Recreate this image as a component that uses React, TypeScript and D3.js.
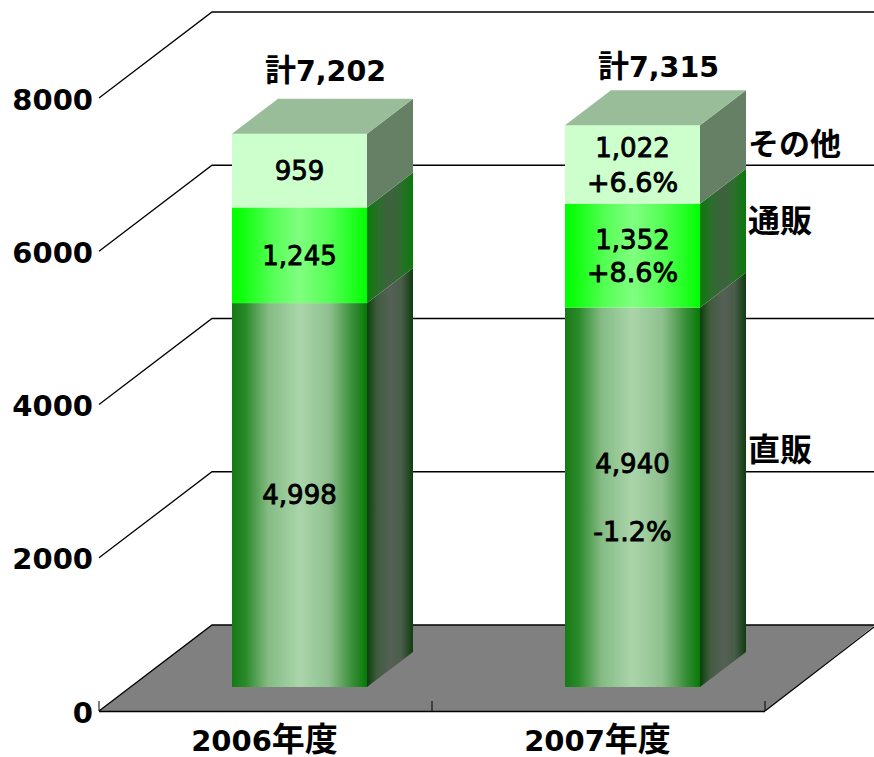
import React from "react";
import * as d3 from "d3";

const categories = ["2006", "2007"];
const categorySuffix = "年度";
const chokuhan = [4998, 4940];
const tsuhan = [1245, 1352];
const sonota = [959, 1022];
const totals = ["7,202", "7,315"];
const totalPrefix = "計";
const yTicks = [0, 2000, 4000, 6000, 8000];
const labelLines = [
  [["4,998"], ["1,245"], ["959"]],
  [["4,940", "-1.2%"], ["1,352", "+8.6%"], ["1,022", "+6.6%"]],
];
const seriesNames = ["直販", "通販", "その他"];

const W = 874, H = 757;
const DX = 112, DY = 86; // floor depth
const BDX = 46, BDY = 35; // bar depth
const x = d3.scaleBand<string>().domain(categories).range([99, 765]);
const y = d3.scaleLinear().domain([0, 8000]).range([711, 98]);
const yBar = d3.scaleLinear().domain([0, 8000]).range([687, 72.5]);
const BW = 135;
const barLeft = (c: string) => x(c)! + x.bandwidth() / 2 - BW / 2 + 34;
const font = "'DejaVu Sans','Noto Sans CJK JP',sans-serif";
const cjk = "'Noto Sans CJK JP',sans-serif";
const poly = (p: number[][]) => p.map((a) => a.join(",")).join(" ");

function Grad({ id, stops }: { id: string; stops: [number, string][] }) {
  return (
    <linearGradient id={id} x1="0" x2="1" y1="0" y2="0">
      {stops.map(([o, c]) => <stop key={o} offset={o} stopColor={c} />)}
    </linearGradient>
  );
}

const fills = [
  { front: "url(#gf0)", side: "url(#gs0)" },
  { front: "url(#gf1)", side: "url(#gs1)" },
  { front: "#ccffcc", side: "#668066" },
];

// vertical label centres relative to segment middle, one per line
const labelDy = [
  [[-1], [0], [0]],
  [[-34, 34], [-16, 17], [-17, 18]],
];

export default function App() {
  const stacks = categories.map((_, i) => {
    const vals = [chokuhan[i], tsuhan[i], sonota[i]];
    let acc = 0;
    return vals.map((v) => {
      const r = { a: acc, b: acc + v };
      acc += v;
      return r;
    });
  });
  return (
    <svg width={W} height={H} style={{ position: "absolute", left: 0, top: 0 }} fontFamily={font}>
      <defs>
        <Grad id="gf0" stops={[[0, "#157a15"], [0.1, "#2a8a2a"], [0.27, "#85bb85"], [0.5, "#aad5aa"], [0.72, "#8fc08f"], [0.9, "#358c35"], [1, "#057a05"]]} />
        <Grad id="gs0" stops={[[0, "#0c3f0c"], [0.22, "#3f5c3f"], [0.5, "#556055"], [0.75, "#4a5c4a"], [1, "#0f3d0f"]]} />
        <Grad id="gf1" stops={[[0, "#00ff00"], [0.08, "#10ff10"], [0.3, "#55ff55"], [0.5, "#80ff80"], [0.72, "#55ff55"], [0.95, "#10ff10"], [1, "#00ff00"]]} />
        <Grad id="gs1" stops={[[0, "#0a7a0a"], [0.25, "#2c6e2c"], [0.5, "#406040"], [0.75, "#2c6e2c"], [1, "#0a7a0a"]]} />
      </defs>
      <rect width={W} height={H} fill="#fff" />
      <polygon points={poly([[x.range()[0], y(0)], [x.range()[0] + DX + 1, y(0) - DY], [W + 1, y(0) - DY], [x.range()[1], y(0)]])} fill="#808080" />
      {yTicks.map((t) => (
        <polyline key={t} fill="none" stroke="#000" strokeWidth={1.3}
          points={poly([[x.range()[0], y(t)], [x.range()[0] + DX + 1, y(t) - DY], [W, y(t) - DY]])} />
      ))}
      <line x1={765} y1={711} x2={874} y2={627} stroke="#000" strokeWidth={1.3} />
      <line x1={99} x2={765} y1={711.5} y2={711.5} stroke="#000" strokeWidth={1.6} />
      {[0, 1, 2].map((i) => (
        <line key={i} x1={99 + i * x.bandwidth()} x2={99 + i * x.bandwidth()} y1={701} y2={711} stroke="#000" strokeWidth={1} />
      ))}
      {categories.map((c, i) => {
        const l = barLeft(c);
        const r = l + BW;
        const top = yBar(stacks[i][2].b);
        return (
          <g key={c}>
            {stacks[i].map((s, k) => {
              const y0 = yBar(s.a), y1 = yBar(s.b);
              return (
                <g key={k}>
                  <polygon points={poly([[r, y0], [r + BDX, y0 - BDY], [r + BDX, y1 - BDY], [r, y1]])} fill={fills[k].side} />
                  <rect x={l} y={y1} width={BW} height={y0 - y1} fill={fills[k].front} />
                </g>
              );
            })}
            <polygon fill="#99bd99" points={poly([[l, top], [l + BDX, top - BDY], [r + BDX, top - BDY], [r, top]])} />
          </g>
        );
      })}
      {categories.map((c, i) => {
        const cx = barLeft(c) + BW / 2;
        return stacks[i].map((s, k) => {
          const mid = (yBar(s.a) + yBar(s.b)) / 2;
          return labelLines[i][k].map((t, j) => (
            <text key={t} x={cx} y={mid + labelDy[i][k][j] + 9.5}
              textAnchor="middle" fontSize={t.includes("%") ? 27 : 26} fill="#000" stroke="#000" strokeWidth={0.9}>
              {t}
            </text>
          ));
        });
      })}
      {categories.map((c, i) => (
        <text key={c} x={barLeft(c) + BW / 2 + 26} y={[81, 77][i]} textAnchor="middle" fontSize={28.5} fontWeight="bold">
          <tspan fontFamily={cjk} fontSize={31}>{totalPrefix}</tspan>{totals[i]}
        </text>
      ))}
      {yTicks.map((t) => (
        <text key={t} x={93} y={y(t) + 11.5} textAnchor="end" fontSize={29} fontWeight="bold">{t}</text>
      ))}
      {categories.map((c) => (
        <text key={c} x={x(c)! + x.bandwidth() / 2 - 1} y={751} textAnchor="middle" fontSize={29} fontWeight="bold">
          {c}<tspan fontFamily={cjk} fontSize={33}>{categorySuffix}</tspan>
        </text>
      ))}
      <text x={748} y={461} fontSize={32} fontFamily={cjk} fontWeight="bold">{seriesNames[0]}</text>
      <text x={748} y={232} fontSize={32} fontFamily={cjk} fontWeight="bold">{seriesNames[1]}</text>
      <text x={748} y={155} fontSize={31} fontFamily={cjk} fontWeight="bold">{seriesNames[2]}</text>
    </svg>
  );
}
